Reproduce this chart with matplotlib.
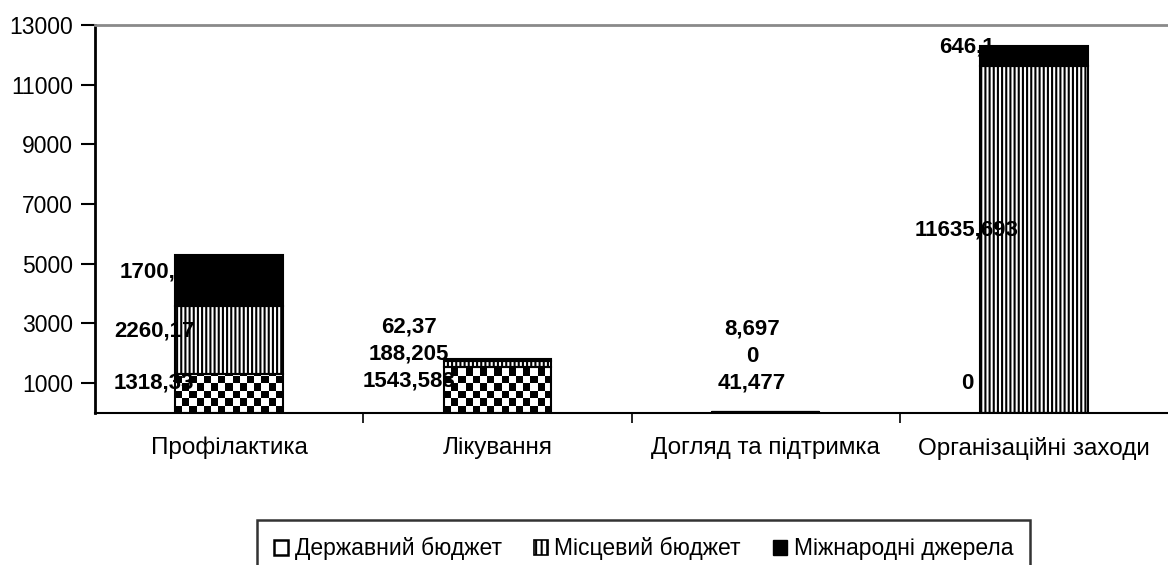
import numpy as np
import matplotlib
matplotlib.use("Agg")
import matplotlib.pyplot as plt
from matplotlib.patches import Patch

plt.rcParams['font.family'] = ['Liberation Sans', 'DejaVu Sans']
plt.rcParams['hatch.linewidth'] = 1.5

# ---- data ----
categories = ["Профілактика", "Лікування", "Догляд та підтримка", "Організаційні заходи"]
series_names = ["Державний бюджет", "Місцевий бюджет", "Міжнародні джерела"]
state_budget = [1318.33, 1543.583, 41.477, 0]
local_budget = [2260.17, 188.205, 0, 11635.693]
intl_sources = [1700.2, 62.37, 8.697, 646.1]
y_ticks = [1000, 3000, 5000, 7000, 9000, 11000, 13000]

# ---- layout (label placement relative to bars, in category widths) ----
label_dx = [-0.28, -0.33, -0.05, -0.25]

W, H = 1168, 565
fig = plt.figure(figsize=(W / 100, H / 100), dpi=100)
ax = fig.add_axes([95 / W, 1 - 413 / H, 1 - 95 / W, (413 - 25) / H])
ax.set_xlim(-0.5, 3.5)
ax.set_ylim(0, 13000)

x = np.arange(len(categories))
state = np.array(state_budget)
local = np.array(local_budget)
intl = np.array(intl_sources)
bw = 0.4

state_bars = ax.bar(x, state, bw, facecolor='none', edgecolor='black', lw=1.5, zorder=3)
local_bars = ax.bar(x, local, bw, bottom=state, facecolor='none', edgecolor='black',
                    hatch='||||', lw=1.5, zorder=3)
intl_bars = ax.bar(x, intl, bw, bottom=state + local, facecolor='black', edgecolor='black',
                   lw=1.5, zorder=3)


def checker(patch, cell=7.3):
    x0, y0 = patch.get_x(), patch.get_y()
    w, h = patch.get_width(), patch.get_height()
    if h <= 0:
        return
    (px0, py0), (px1, py1) = ax.transData.transform([(x0, y0), (x0 + w, y0 + h)])
    nx = max(1, int(round((px1 - px0) / cell)))
    ny = max(1, int(np.ceil((py1 - py0) / cell)))
    ch = cell * h / (py1 - py0)
    grid = (np.add.outer(np.arange(ny), np.arange(nx)) % 2 == 0)
    rgba = np.zeros((ny, nx, 4))
    rgba[grid] = [0, 0, 0, 1]
    im = ax.imshow(rgba, extent=[x0, x0 + w, y0, y0 + ny * ch], origin='lower',
                   interpolation='nearest', aspect='auto', zorder=3)
    im.set_clip_path(patch)


for p in state_bars:
    checker(p)

ax.set_xlim(-0.5, 3.5)
ax.set_ylim(0, 13000)


def fmt(v):
    s = f"{v:.3f}".rstrip('0').rstrip('.')
    return s.replace('.', ',')


# data labels (drawn beneath the bars, as in the original)
for i in range(len(categories)):
    vals = [state[i], local[i], intl[i]]
    bottoms = [0, state[i], state[i] + local[i]]
    prev = None
    for v, b in zip(vals, bottoms):
        y = max(b + v / 2 + 300, 1000)
        if prev is not None:
            y = max(y, prev + 900)
        prev = y
        ax.text(x[i] + label_dx[i], y, fmt(v), ha='center', va='center',
                fontsize=16, fontweight='bold', zorder=2)

# axes styling
ax.spines['right'].set_visible(False)
ax.spines['top'].set_color('#8a8a8a')
ax.spines['top'].set_linewidth(2)
ax.spines['left'].set_linewidth(2)
ax.spines['bottom'].set_linewidth(1.5)

ax.set_yticks(y_ticks)
ax.set_yticklabels([str(t) for t in y_ticks])
ax.tick_params(axis='y', direction='out', length=10, width=1.5, pad=6, labelsize=16.5)

ax.set_xticks([0.5, 1.5, 2.5])
ax.set_xticklabels([])
ax.tick_params(axis='x', which='major', direction='out', length=7, width=1.2)
ax.set_xticks(x, minor=True)
ax.set_xticklabels(categories, minor=True)
ax.tick_params(axis='x', which='minor', length=0, pad=17, labelsize=17.5)

handles = [Patch(facecolor='white', edgecolor='black', lw=1.8),
           Patch(facecolor='white', edgecolor='black', hatch='|||', lw=1.2),
           Patch(facecolor='black', edgecolor='black')]
leg = fig.legend(handles, series_names, loc='upper center', bbox_to_anchor=(0.551, 1 - 520 / H),
                 ncol=3, frameon=True, fancybox=False, edgecolor='black', fontsize=16.5,
                 handlelength=0.6, handleheight=0.6, handletextpad=0.3, columnspacing=1.4,
                 borderpad=0.75, borderaxespad=0)
leg.get_frame().set_linewidth(1.8)

fig.savefig('out.png', dpi=100)
